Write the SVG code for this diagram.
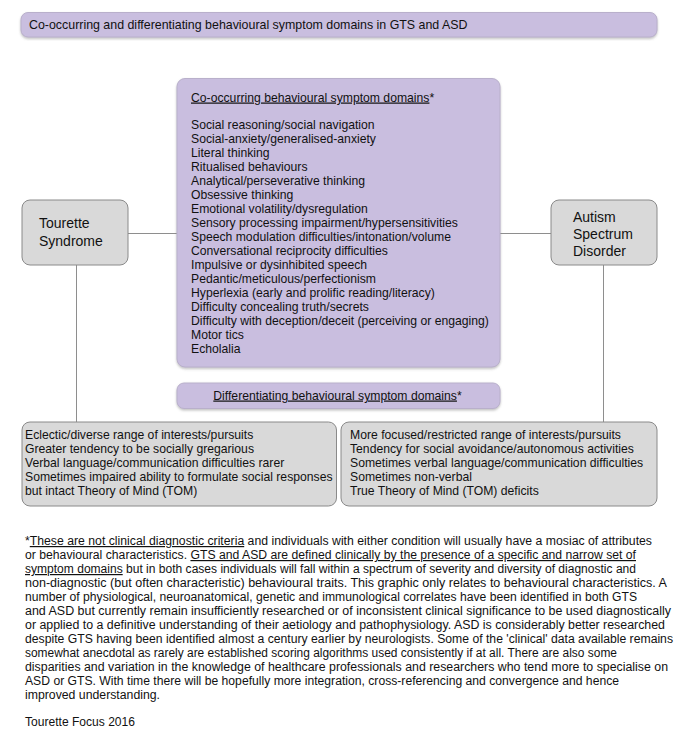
<svg xmlns="http://www.w3.org/2000/svg" width="678" height="742" viewBox="0 0 678 742">
<style>
  text { font-family: "Liberation Sans", Arial, sans-serif; fill: #111; }
  .purple { fill: #c9bedf; stroke: #b9b0cb; stroke-width: 1; }
  .gray { fill: #d9d9d9; stroke: #8a8a8a; stroke-width: 1; }
  .conn { stroke: #8e8e8e; stroke-width: 1; fill: none; }
  .t12 { font-size: 12.2px; }
  .t14 { font-size: 14px; }
  .fn { font-size: 12px; }
  .u { text-decoration: underline; }
</style>
<defs>
  <filter id="sh" x="-5%" y="-5%" width="110%" height="120%">
    <feDropShadow dx="0" dy="1.5" stdDeviation="1" flood-color="#777" flood-opacity="0.45"/>
  </filter>
</defs>
<rect width="678" height="742" fill="#ffffff"/>

<g id="connectors">
  <line class="conn" x1="128" y1="233.5" x2="177" y2="233.5"/>
  <line class="conn" x1="500" y1="233.5" x2="551" y2="233.5"/>
  <line class="conn" x1="76.5" y1="265" x2="76.5" y2="422"/>
  <line class="conn" x1="603.5" y1="265" x2="603.5" y2="422"/>
</g>

<g id="title">
  <rect class="purple" filter="url(#sh)" x="21" y="12.5" width="636" height="24.5" rx="7"/>
  <text x="29" y="29" style="font-size:12.4px">Co-occurring and differentiating behavioural symptom domains in GTS and ASD</text>
</g>

<g id="cooccurring">
  <rect class="purple" filter="url(#sh)" x="177" y="78.5" width="323" height="288.5" rx="8"/>
  <text class="t12" x="191" y="101.5"><tspan class="u">Co-occurring behavioural symptom domains</tspan>*</text>
  <text class="t12" x="191" y="128.5">Social reasoning/social navigation</text>
  <text class="t12" x="191" y="142.5">Social-anxiety/generalised-anxiety</text>
  <text class="t12" x="191" y="156.5">Literal thinking</text>
  <text class="t12" x="191" y="170.5">Ritualised behaviours</text>
  <text class="t12" x="191" y="184.5">Analytical/perseverative thinking</text>
  <text class="t12" x="191" y="198.5">Obsessive thinking</text>
  <text class="t12" x="191" y="212.5">Emotional volatility/dysregulation</text>
  <text class="t12" x="191" y="226.5">Sensory processing impairment/hypersensitivities</text>
  <text class="t12" x="191" y="240.5">Speech modulation difficulties/intonation/volume</text>
  <text class="t12" x="191" y="254.5">Conversational reciprocity difficulties</text>
  <text class="t12" x="191" y="268.5">Impulsive or dysinhibited speech</text>
  <text class="t12" x="191" y="282.5">Pedantic/meticulous/perfectionism</text>
  <text class="t12" x="191" y="296.5">Hyperlexia (early and prolific reading/literacy)</text>
  <text class="t12" x="191" y="310.5">Difficulty concealing truth/secrets</text>
  <text class="t12" x="191" y="324.5">Difficulty with deception/deceit (perceiving or engaging)</text>
  <text class="t12" x="191" y="338.5">Motor tics</text>
  <text class="t12" x="191" y="352.5">Echolalia</text>
</g>

<g id="differentiating">
  <rect class="purple" filter="url(#sh)" x="177" y="383" width="323" height="25.5" rx="7"/>
  <text class="t12" x="337.5" y="399.5" text-anchor="middle"><tspan class="u">Differentiating behavioural symptom domains</tspan>*</text>
</g>

<g id="tourette">
  <rect class="gray" x="22" y="200" width="106" height="65" rx="8"/>
  <text class="t14" x="39" y="228">Tourette</text>
  <text class="t14" x="39" y="246">Syndrome</text>
</g>

<g id="asd">
  <rect class="gray" x="551" y="200" width="106" height="65" rx="8"/>
  <text class="t14" x="573" y="222">Autism</text>
  <text class="t14" x="573" y="239">Spectrum</text>
  <text class="t14" x="573" y="256">Disorder</text>
</g>

<g id="gts-traits">
  <rect class="gray" x="22" y="422" width="314.5" height="84" rx="8"/>
  <text class="t12" x="25" y="438.5">Eclectic/diverse range of interests/pursuits</text>
  <text class="t12" x="25" y="452.5">Greater tendency to be socially gregarious</text>
  <text class="t12" x="25" y="466.5">Verbal language/communication difficulties rarer</text>
  <text class="t12" x="25" y="480.5">Sometimes impaired ability to formulate social responses</text>
  <text class="t12" x="25" y="494.5">but intact Theory of Mind (TOM)</text>
</g>

<g id="asd-traits">
  <rect class="gray" x="341" y="422" width="316" height="84" rx="8"/>
  <text class="t12" x="350" y="438.5">More focused/restricted range of interests/pursuits</text>
  <text class="t12" x="350" y="452.5">Tendency for social avoidance/autonomous activities</text>
  <text class="t12" x="350" y="466.5">Sometimes verbal language/communication difficulties</text>
  <text class="t12" x="350" y="480.5">Sometimes non-verbal</text>
  <text class="t12" x="350" y="494.5">True Theory of Mind (TOM) deficits</text>
</g>

<g id="footnote">
  <text class="fn" x="25" y="545" textLength="627" lengthAdjust="spacingAndGlyphs">*<tspan class="u">These are not clinical diagnostic criteria</tspan> and individuals with either condition will usually have a mosiac of attributes</text>
  <text class="fn" x="25" y="559" textLength="611" lengthAdjust="spacingAndGlyphs">or behavioural characteristics. <tspan class="u">GTS and ASD are defined clinically by the presence of a specific and narrow set of</tspan></text>
  <text class="fn" x="25" y="573" textLength="611" lengthAdjust="spacingAndGlyphs"><tspan class="u">symptom domains</tspan> but in both cases individuals will fall within a spectrum of severity and diversity of diagnostic and</text>
  <text class="fn" x="25" y="587" textLength="642" lengthAdjust="spacingAndGlyphs">non-diagnostic (but often characteristic) behavioural traits. This graphic only relates to behavioural characteristics. A</text>
  <text class="fn" x="25" y="601" textLength="612" lengthAdjust="spacingAndGlyphs">number of physiological, neuroanatomical, genetic and immunological correlates have been identified in both GTS</text>
  <text class="fn" x="25" y="615" textLength="646" lengthAdjust="spacingAndGlyphs">and ASD but currently remain insufficiently researched or of inconsistent clinical significance to be used diagnostically</text>
  <text class="fn" x="25" y="629" textLength="640" lengthAdjust="spacingAndGlyphs">or applied to a definitive understanding of their aetiology and pathophysiology. ASD is considerably better researched</text>
  <text class="fn" x="25" y="643" textLength="648" lengthAdjust="spacingAndGlyphs">despite GTS having been identified almost a century earlier by neurologists. Some of the 'clinical' data available remains</text>
  <text class="fn" x="25" y="657" textLength="592" lengthAdjust="spacingAndGlyphs">somewhat anecdotal as rarely are established scoring algorithms used consistently if at all. There are also some</text>
  <text class="fn" x="25" y="671" textLength="643" lengthAdjust="spacingAndGlyphs">disparities and variation in the knowledge of healthcare professionals and researchers who tend more to specialise on</text>
  <text class="fn" x="25" y="685" textLength="594" lengthAdjust="spacingAndGlyphs">ASD or GTS. With time there will be hopefully more integration, cross-referencing and convergence and hence</text>
  <text class="fn" x="25" y="699" textLength="135" lengthAdjust="spacingAndGlyphs">improved understanding.</text>
  <text class="fn" x="25" y="726" textLength="110" lengthAdjust="spacingAndGlyphs">Tourette Focus 2016</text>
</g>
</svg>
